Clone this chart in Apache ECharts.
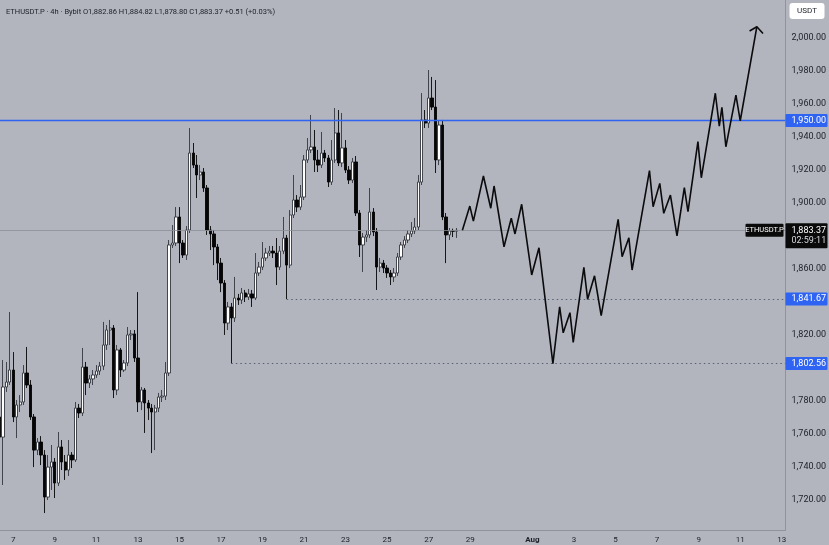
<!DOCTYPE html>
<html>
<head>
<meta charset="utf-8">
<script src="https://cdn.jsdelivr.net/npm/echarts@6/dist/echarts.min.js"></script>
<style>
  html, body { margin: 0; padding: 0; background: #b2b5be; }
  #chart { width: 829px; height: 545px; }
</style>
</head>
<body>
<div id="chart"></div>
<script>
// ETHUSDT.P 4h candles, hours counted from Jul 7 00:00; first candle opens Jul 6 08:00
const firstCandleHour = -16;
const candleStep = 4;

const opens = [
  1770.1, 1757.9, 1788.3, 1791.3, 1798.6, 1770.1, 1777.4, 1779.2, 1796.8, 1789.5,
  1770.1, 1750.0, 1754.9, 1747.0, 1721.5, 1739.7, 1742.8, 1730.0, 1751.9, 1742.8,
  1737.9, 1747.0, 1744.0, 1775.5, 1772.5, 1800.4, 1790.7, 1793.2, 1795.6, 1798.0,
  1801.0, 1813.8, 1822.9, 1824.1, 1786.5, 1810.8, 1798.6, 1802.9, 1819.9, 1820.5,
  1805.9, 1779.2, 1786.5, 1778.6, 1775.5, 1773.1, 1775.5, 1782.2, 1782.8, 1796.8,
  1874.5, 1875.7, 1891.5, 1875.7, 1868.4, 1883.6, 1930.3, 1923.0, 1917.0, 1918.8,
  1909.1, 1883.6, 1881.2, 1873.3, 1863.5, 1851.4, 1827.1, 1836.9, 1830.2, 1842.3,
  1841.1, 1845.4, 1842.9, 1844.8, 1842.3, 1857.5, 1861.1, 1866.6, 1869.6, 1870.8,
  1869.6, 1861.1, 1870.8, 1878.7, 1862.3, 1892.7, 1901.8, 1897.5, 1903.6, 1926.1,
  1932.2, 1934.0, 1926.1, 1923.0, 1930.3, 1927.3, 1912.7, 1926.1, 1942.5, 1924.3,
  1933.4, 1920.0, 1913.9, 1924.9, 1893.9, 1874.5, 1879.3, 1880.6, 1894.5, 1882.4,
  1861.1, 1863.5, 1860.5, 1857.5, 1855.1, 1857.5, 1867.2, 1874.5, 1877.5, 1881.2,
  1883.0, 1885.4, 1912.7, 1950.4, 1948.5, 1963.7, 1958.2, 1926.1, 1947.3, 1891.5,
  1880.6, 1883.0, 1882.86
];
const closes = [
  1757.9, 1788.3, 1791.3, 1798.6, 1770.1, 1777.4, 1779.2, 1796.8, 1789.5, 1770.1,
  1750.0, 1754.9, 1747.0, 1721.5, 1739.7, 1742.8, 1730.0, 1751.9, 1742.8, 1737.9,
  1747.0, 1744.0, 1775.5, 1772.5, 1800.4, 1790.7, 1793.2, 1795.6, 1798.0, 1801.0,
  1813.8, 1822.9, 1824.1, 1786.5, 1810.8, 1798.6, 1802.9, 1819.9, 1820.5, 1805.9,
  1779.2, 1786.5, 1778.6, 1775.5, 1773.1, 1775.5, 1782.2, 1782.8, 1796.8, 1874.5,
  1875.7, 1891.5, 1875.7, 1868.4, 1883.6, 1930.3, 1923.0, 1917.0, 1918.8, 1909.1,
  1883.6, 1881.2, 1873.3, 1863.5, 1851.4, 1827.1, 1836.9, 1830.2, 1842.3, 1841.1,
  1845.4, 1842.9, 1844.8, 1842.3, 1857.5, 1861.1, 1866.6, 1869.6, 1870.8, 1869.6,
  1861.1, 1870.8, 1878.7, 1862.3, 1892.7, 1901.8, 1897.5, 1903.6, 1926.1, 1932.2,
  1934.0, 1926.1, 1923.0, 1930.3, 1927.3, 1912.7, 1926.1, 1942.5, 1924.3, 1933.4,
  1920.0, 1913.9, 1924.9, 1893.9, 1874.5, 1879.3, 1880.6, 1894.5, 1882.4, 1861.1,
  1863.5, 1860.5, 1857.5, 1855.1, 1857.5, 1867.2, 1874.5, 1877.5, 1881.2, 1883.0,
  1885.4, 1912.7, 1950.4, 1948.5, 1963.7, 1958.2, 1926.1, 1947.3, 1891.5, 1880.6,
  1883.0, 1882.86, 1883.37
];
const lows = [
  1756.1, 1728.8, 1785.3, 1789.5, 1767.0, 1757.3, 1773.1, 1777.4, 1787.7, 1768.3,
  1739.7, 1747.0, 1740.9, 1711.8, 1719.7, 1725.8, 1720.9, 1728.2, 1737.9, 1731.9,
  1734.3, 1739.1, 1742.8, 1769.5, 1770.7, 1783.4, 1787.7, 1789.5, 1793.8, 1795.6,
  1798.6, 1810.8, 1813.8, 1781.6, 1783.4, 1794.4, 1797.4, 1801.0, 1816.8, 1803.5,
  1773.1, 1774.3, 1760.4, 1768.3, 1748.2, 1750.0, 1773.1, 1779.2, 1780.4, 1795.0,
  1872.7, 1873.9, 1863.5, 1866.6, 1865.4, 1881.8, 1921.2, 1903.0, 1913.9, 1906.7,
  1880.6, 1871.4, 1862.3, 1853.2, 1845.9, 1819.9, 1822.9, 1802.56, 1827.8, 1838.1,
  1838.7, 1839.9, 1841.1, 1836.9, 1841.1, 1855.7, 1859.3, 1864.8, 1867.8, 1866.6,
  1850.2, 1859.3, 1869.0, 1841.67, 1860.5, 1890.9, 1894.5, 1895.7, 1901.8, 1924.3,
  1930.3, 1918.8, 1918.8, 1921.2, 1924.9, 1909.7, 1910.9, 1924.3, 1922.4, 1921.8,
  1918.2, 1911.5, 1912.1, 1892.1, 1867.2, 1858.1, 1876.3, 1878.7, 1879.9, 1847.2,
  1858.1, 1857.5, 1854.5, 1850.2, 1852.0, 1855.7, 1865.4, 1872.7, 1875.7, 1879.3,
  1881.2, 1883.6, 1910.9, 1945.5, 1945.5, 1956.4, 1918.2, 1923.0, 1889.6, 1863.5,
  1877.5, 1879.3, 1878.80
];
const highs = [
  1774.3, 1804.7, 1803.5, 1833.8, 1809.5, 1780.4, 1783.4, 1801.6, 1812.6, 1792.5,
  1771.9, 1757.3, 1758.5, 1750.0, 1747.0, 1753.1, 1745.2, 1761.0, 1756.1, 1747.0,
  1756.1, 1748.8, 1779.2, 1778.0, 1812.0, 1803.5, 1795.6, 1798.6, 1801.6, 1803.5,
  1827.8, 1825.9, 1829.0, 1825.9, 1813.8, 1812.0, 1804.7, 1824.7, 1822.9, 1822.9,
  1845.9, 1788.3, 1787.7, 1780.4, 1778.0, 1777.4, 1784.7, 1786.5, 1803.5, 1877.5,
  1886.6, 1897.5, 1897.5, 1877.5, 1886.0, 1945.5, 1936.4, 1929.1, 1923.0, 1921.2,
  1910.9, 1886.0, 1883.6, 1875.1, 1866.6, 1853.2, 1839.9, 1839.3, 1855.1, 1844.8,
  1848.4, 1847.2, 1847.8, 1847.2, 1869.6, 1864.2, 1876.3, 1872.7, 1873.9, 1873.9,
  1878.7, 1873.9, 1891.5, 1880.6, 1895.7, 1917.0, 1904.8, 1910.9, 1929.1, 1939.4,
  1953.4, 1944.3, 1932.2, 1943.1, 1932.2, 1929.1, 1938.2, 1957.6, 1956.4, 1954.6,
  1938.2, 1922.4, 1927.3, 1928.5, 1895.7, 1881.8, 1883.6, 1909.1, 1896.9, 1884.8,
  1866.6, 1865.4, 1862.3, 1859.3, 1860.5, 1869.6, 1876.3, 1879.9, 1883.6, 1888.4,
  1890.9, 1917.0, 1966.7, 1956.4, 1980.7, 1976.5, 1974.6, 1950.4, 1950.4, 1893.9,
  1884.8, 1884.4, 1884.82
];

// drawn projection path (hours, price)
const projHours = [
  519.0, 527.6, 531.7, 543.3, 551.8, 555.6, 567.1, 575.5, 579.8, 587.5,
  599.1, 607.5, 623.6, 631.4, 635.5, 643.3, 647.1, 659.4, 663.7, 671.7,
  679.4, 699.0, 703.6, 711.4, 715.1, 735.2, 739.4, 747.1, 751.7, 759.4,
  767.0, 775.5, 779.7, 791.2, 795.1, 811.3, 815.9, 818.9, 823.5, 835.1,
  840.1, 859.3
];
const projPrices = [
  1883.4, 1898.1, 1889.0, 1916.4, 1896.8, 1910.3, 1873.4, 1890.7, 1881.2, 1899.2,
  1856.3, 1872.8, 1802.5, 1837.0, 1821.2, 1833.4, 1815.4, 1860.9, 1841.5, 1855.8,
  1831.6, 1890.1, 1867.4, 1878.9, 1859.3, 1919.6, 1897.7, 1911.9, 1893.7, 1904.8,
  1880.1, 1909.3, 1894.7, 1937.2, 1915.3, 1966.6, 1946.7, 1958.1, 1934.1, 1965.5,
  1949.9, 2007.0
];
const arrowHours = [850.9, 859.3, 866.4];
const arrowPrices = [2004.4, 2007.0, 2002.9];

const dayTicks = [0, 48, 96, 144, 192, 240, 288, 336, 384, 432, 480, 528,
  600, 648, 696, 744, 792, 840, 888];
const dayLabels = ['7', '9', '11', '13', '15', '17', '19', '21', '23', '25', '27', '29',
  'Aug', '3', '5', '7', '9', '11', '13'];
const priceTicks = [1720, 1740, 1760, 1780, 1820, 1860, 1900, 1920, 1940, 1960, 1980, 2000];

const resistance = 1950;
const lastPrice = 1883.37;
const supportHigh = { price: 1841.67, fromHour: 316 };
const supportLow = { price: 1802.56, fromHour: 252 };

const xMin = -15.34, xMax = 892.4;
const yMin = 1701.5, yMax = 2023.2;

const BLUE = '#2f64f2';
const INK = '#1c1f27';
const FONT = 'Roboto, "Liberation Sans", sans-serif';

const fmtPrice = v => v.toLocaleString('en-US', { minimumFractionDigits: 2, maximumFractionDigits: 2 });

const candles = opens.map((o, i) => [firstCandleHour + i * candleStep, o, closes[i], lows[i], highs[i]]);
const projection = projHours.map((h, i) => [h, projPrices[i]]);
const arrowHead = arrowHours.map((h, i) => [h, arrowPrices[i]]);

const chart = echarts.init(document.getElementById('chart'));

chart.setOption({
  animation: false,
  backgroundColor: '#b2b5be',
  title: {
    text: 'ETHUSDT.P · 4h · Bybit O1,882.86 H1,884.82 L1,878.80 C1,883.37 +0.51 (+0.03%)',
    left: 1,
    top: 3,
    textStyle: { fontSize: 7.5, fontWeight: 'normal', color: INK, fontFamily: FONT }
  },
  grid: { left: 0, right: 42, top: 0, bottom: 15 },
  xAxis: {
    type: 'value',
    min: xMin,
    max: xMax,
    splitLine: { show: false },
    axisTick: { show: false },
    axisLine: { show: true, onZero: false, lineStyle: { color: '#8f939b', width: 1 } },
    axisLabel: {
      customValues: dayTicks,
      color: INK,
      fontSize: 8,
      fontFamily: FONT,
      margin: 6,
      formatter: v => {
        const lbl = dayLabels[dayTicks.indexOf(v)];
        return lbl === 'Aug' ? '{b|Aug}' : lbl;
      },
      rich: { b: { fontWeight: 'bold', fontSize: 8, color: INK, fontFamily: FONT } }
    }
  },
  yAxis: {
    type: 'value',
    position: 'right',
    min: yMin,
    max: yMax,
    scale: true,
    splitLine: { show: false },
    axisTick: { show: false },
    axisLine: { show: true, onZero: false, lineStyle: { color: '#8f939b', width: 1 } },
    axisLabel: {
      customValues: priceTicks,
      color: INK,
      fontSize: 9,
      fontFamily: FONT,
      margin: 6,
      formatter: v => fmtPrice(v)
    }
  },
  series: [
    {
      type: 'candlestick',
      data: candles,
      encode: { x: 0, y: [1, 2, 3, 4] },
      barWidth: 2.8,
      clip: true,
      itemStyle: {
        color: '#ffffff',
        color0: '#050505',
        borderColor: '#34373e',
        borderColor0: '#050505',
        borderWidth: 0.9
      },
      markLine: {
        silent: true,
        symbol: 'none',
        label: { show: false },
        data: [
          { yAxis: resistance, lineStyle: { color: BLUE, width: 1.3, type: 'solid' } },
          { yAxis: lastPrice, lineStyle: { color: '#8a8e97', width: 0.8, type: 'solid' } },
          [
            { coord: [supportHigh.fromHour, supportHigh.price], lineStyle: { color: '#586073', width: 1, type: [1.5, 3] } },
            { coord: [xMax, supportHigh.price] }
          ],
          [
            { coord: [supportLow.fromHour, supportLow.price], lineStyle: { color: '#586073', width: 1, type: [1.5, 3] } },
            { coord: [xMax, supportLow.price] }
          ]
        ]
      }
    },
    {
      type: 'line',
      data: projection,
      symbol: 'none',
      z: 5,
      lineStyle: { color: '#0b0b0d', width: 1.6 }
    },
    {
      type: 'line',
      data: arrowHead,
      symbol: 'none',
      z: 5,
      lineStyle: { color: '#0b0b0d', width: 1.6 }
    }
  ]
});

// price tags on the scale, placed through the axis conversion
const xRight = chart.convertToPixel({ xAxisIndex: 0 }, xMax);
const yPix = v => chart.convertToPixel({ yAxisIndex: 0 }, v);
const textEl = (x, y, text, fill, size, align) => ({
  type: 'text',
  z: 100,
  style: {
    x, y, text, fill,
    font: size + 'px ' + FONT,
    align: align || 'left', verticalAlign: 'middle',
    textAlign: align || 'left', textVerticalAlign: 'middle'
  }
});
const rectEl = (x, y, w, h, fill, r) => ({
  type: 'rect', z: 99,
  shape: { x, y, width: w, height: h, r: r || 0 },
  style: { fill }
});

const elements = [];
[resistance, supportHigh.price, supportLow.price].forEach(p => {
  const y = yPix(p);
  elements.push(rectEl(xRight, y - 6.5, 42, 13, BLUE, 1));
  elements.push(textEl(xRight + 6, y, fmtPrice(p), '#ffffff', 9));
});
const yLast = yPix(lastPrice);
elements.push(rectEl(xRight, yLast - 7, 42, 25, '#0a0a0a', 1));
elements.push(textEl(xRight + 6, yLast, fmtPrice(lastPrice), '#ffffff', 9));
elements.push(textEl(xRight + 6, yLast + 10.5, '02:59:11', '#d6d8dd', 9));
elements.push(rectEl(xRight - 40, yLast - 6.5, 38, 13, '#0a0a0a', 1));
elements.push(textEl(xRight - 21, yLast, 'ETHUSDT.P', '#ffffff', 7.5, 'center'));
elements.push(rectEl(xRight + 4, 3, 35, 16, '#ffffff', 3));
elements.push(textEl(xRight + 21.5, 11, 'USDT', INK, 8, 'center'));

chart.setOption({ graphic: { elements } });
</script>
</body>
</html>
